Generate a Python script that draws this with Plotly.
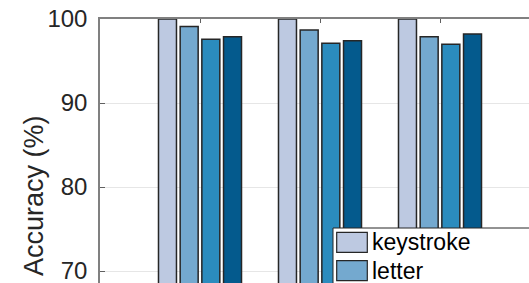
import plotly.graph_objects as go

# ---- data ----
groups = [1, 2, 3]
series_names = ["keystroke", "letter", "word", "sentence"]
keystroke = [100.0, 100.0, 100.0]
letter = [99.1, 98.7, 97.9]
series3 = [97.6, 97.1, 97.0]
series4 = [97.9, 97.4, 98.2]
series_values = [keystroke, letter, series3, series4]
colors = ["#bdc9e1", "#74a9cf", "#2b8cbe", "#045a8d"]
y_ticks = [70, 80, 90, 100]
y_title = "Accuracy (%)"

W, H = 529, 283
ML, MT = 100, 19
PW, PH = W - ML, H - MT

def px(x):
    return (x - ML) / PW

def py(y):
    return (H - y) / PH

fig = go.Figure()
for name, vals, col in zip(series_names, series_values, colors):
    fig.add_trace(go.Bar(
        x=groups, y=vals, name=name,
        marker=dict(color=col, line=dict(color="#262626", width=1.5)),
        showlegend=False, hoverinfo="skip",
    ))

fig.update_layout(
    width=W, height=H,
    margin=dict(l=ML, r=0, t=MT, b=0),
    plot_bgcolor="white", paper_bgcolor="white",
    barmode="group", bargap=0.2775, bargroupgap=0.17,
    font=dict(family="Liberation Sans, Arial, sans-serif", color="#262626"),
    xaxis=dict(
        range=[1 - 100 / 120, 1 + 329 / 120],
        side="top", showline=True, linecolor="#808080", linewidth=1.5,
        ticks="inside", ticklen=4, tickcolor="#606060",
        tickvals=groups, showticklabels=False, showgrid=False, zeroline=False,
    ),
    yaxis=dict(
        range=[100 - PH / 8.4, 100],
        showline=True, linecolor="#808080", linewidth=1.5,
        ticks="inside", ticklen=5, tickcolor="#606060",
        tickvals=y_ticks, tickfont=dict(size=24, color="#262626"),
        showgrid=True, gridcolor="#e6e6e6", gridwidth=1, zeroline=False,
        ticklabelstandoff=6, ticklabeloverflow="allow",
    ),
)

# y-axis title (axis extends below the visible crop, so place explicitly)
fig.add_annotation(
    text=y_title, textangle=-90, xref="paper", yref="paper",
    x=px(34), y=py(196), xanchor="center", yanchor="middle",
    showarrow=False, font=dict(size=27, color="#262626"),
)

# legend box (partially visible, continues past the crop)
fig.add_shape(type="rect", xref="paper", yref="paper",
              x0=px(333), x1=px(560), y0=py(400), y1=py(228),
              fillcolor="white", line=dict(color="#262626", width=1), layer="above")
for i, (name, col) in enumerate(zip(series_names, colors)):
    top = 232.3 + i * 28.3
    if top + 10 > H:
        break
    fig.add_shape(type="rect", xref="paper", yref="paper",
                  x0=px(336.7), x1=px(367.3), y0=py(top + 20), y1=py(top),
                  fillcolor=col, line=dict(color="#262626", width=1.2), layer="above")
    fig.add_annotation(text=name, xref="paper", yref="paper",
                       x=px(370), y=py(top + 10), xanchor="left", yanchor="middle",
                       showarrow=False, font=dict(size=23, color="#000000"))

fig.write_html("out.html", config={"displayModeBar": False},
               post_script="document.body.style.margin='0';document.body.style.overflow='hidden';")
